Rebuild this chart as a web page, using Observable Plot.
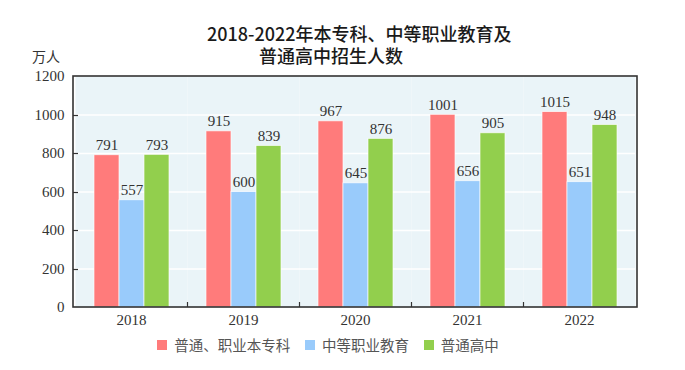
<!DOCTYPE html>
<html>
<head>
<meta charset="utf-8">
<script src="https://cdn.jsdelivr.net/npm/d3@7"></script>
<script src="https://cdn.jsdelivr.net/npm/@observablehq/plot@0.6"></script>
<style>
  body { margin: 0; background: #fff; }
  #wrap { position: relative; width: 685px; height: 370px; overflow: hidden; background: #fff; }
  #title { position: absolute; left: 259px; top: 22px; text-indent: -52px; font-family: "Noto Sans CJK SC", sans-serif; font-size: 18px; line-height: 22px; color: #1a1a1a; font-weight: 500; white-space: pre; }
  #unit { position: absolute; left: 32px; top: 49px; font-family: "Noto Sans CJK SC", serif; font-size: 14px; line-height: 15px; color: #333; }
  #chart { position: absolute; left: 0; top: 0; }
  #legend { position: absolute; left: 157px; top: 328px; }
</style>
</head>
<body>
<div id="wrap">
  <div id="chart"></div>
  <div id="title"></div>
  <div id="unit"></div>
  <div id="legend"></div>
</div>
<script>
(function () {
const titleLines = ["2018-2022年本专科、中等职业教育及", "普通高中招生人数"];
const unitLabel = "万人";
const years = ["2018", "2019", "2020", "2021", "2022"];
const series = ["普通、职业本专科", "中等职业教育", "普通高中"];
const higherEd = [791, 915, 967, 1001, 1015];
const secondaryVocational = [557, 600, 645, 656, 651];
const generalHighSchool = [793, 839, 876, 905, 948];
const yTicks = [0, 200, 400, 600, 800, 1000, 1200];
const colors = ["#FF7B7B", "#99CBFB", "#92CF4D"];

document.getElementById("title").textContent = titleLines.join("\n");
document.getElementById("unit").textContent = unitLabel;

const valuesBySeries = [higherEd, secondaryVocational, generalHighSchool];
const data = [];
years.forEach((yr, i) => {
  series.forEach((s, j) => {
    data.push({year: yr, series: s, value: valuesBySeries[j][i]});
  });
});

const plot = Plot.plot({
  width: 685,
  height: 370,
  marginLeft: 73,
  marginRight: 48,
  marginTop: 76,
  marginBottom: 63,
  style: {fontFamily: "'Liberation Serif', serif", fontSize: "15px", color: "#333", background: "transparent"},
  fx: {domain: years, padding: 0, label: null, axis: "bottom", tickSize: 0, tickPadding: 7},
  x: {domain: series, axis: null, paddingInner: 0, paddingOuter: 0.7},
  y: {domain: [0, 1200], ticks: yTicks, tickFormat: d => String(d), tickSize: 0, tickPadding: 11, label: null},
  color: {domain: series, range: colors},
  marks: [
    Plot.frame({fill: "#EAF4F8", stroke: "none"}),
    Plot.ruleY(yTicks.slice(1, -1), {stroke: "#fff", strokeWidth: 1.5}),
    Plot.barY(data, {fx: "year", x: "series", y: "value", fill: "series", stroke: "#fff", strokeWidth: 0.8, strokeOpacity: 0.8}),
    Plot.text(data, {fx: "year", x: "series", y: "value", text: d => String(d.value), dy: -5, lineAnchor: "bottom", fill: "#333", fontSize: 15})
  ]
});

document.getElementById("chart").appendChild(plot);

const fx = plot.scale("fx");
const ys = plot.scale("y");
const svg = d3.select(plot);
const xLeft = fx.range[0], xRight = fx.range[1];
const yTop = ys.apply(1200), yBottom = ys.apply(0);
const g = svg.append("g").attr("stroke", "#333").attr("fill", "none");
yTicks.slice(1, -1).forEach(v => {
  const y = Math.round(ys.apply(v)) + 0.5;
  g.append("line").attr("x1", xLeft).attr("x2", xLeft + 5).attr("y1", y).attr("y2", y).attr("stroke-width", 1.2);
});
years.slice(1).forEach(yr => {
  const x = Math.round(fx.apply(yr)) + 0.5;
  g.append("line").attr("x1", x).attr("x2", x).attr("y1", yBottom).attr("y2", yBottom - 5).attr("stroke-width", 1.2);
});
g.append("rect").attr("x", xLeft).attr("y", yTop).attr("width", xRight - xLeft).attr("height", yBottom - yTop).attr("stroke-width", 1.6);

const legend = plot.legend("color", {swatchSize: 10, style: {fontFamily: "'Noto Sans CJK SC', sans-serif", fontSize: "14.5px", color: "#555"}});
document.getElementById("legend").appendChild(legend);
})();
</script>
</body>
</html>
